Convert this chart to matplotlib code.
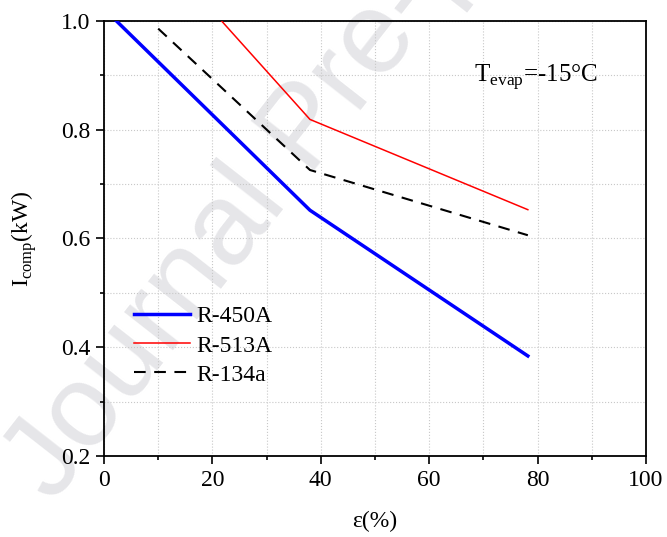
import numpy as np
import matplotlib.pyplot as plt
from matplotlib.ticker import MultipleLocator

# effectiveness (%) and compressor power (kW)
eff_450a = [2.3, 38.0, 78.2]
pow_450a = [1.0, 0.652, 0.384]
eff_513a = [21.7, 38.0, 78.2]
pow_513a = [1.0, 0.819, 0.653]
eff_134a = [10.0, 38.0, 78.2]
pow_134a = [0.986, 0.726, 0.606]

plt.rcParams['font.family'] = ['Liberation Serif', 'DejaVu Serif']
plt.rcParams['mathtext.fontset'] = 'custom'
plt.rcParams['mathtext.rm'] = 'Liberation Serif'

fig = plt.figure(figsize=(6.67, 5.37), dpi=100)
ax = fig.add_axes([104 / 667, 1 - 456 / 537, 542 / 667, 435 / 537])
ax.patch.set_alpha(0)

# faint watermark behind the plot
fig.text(306 / 667, 1 - 130 / 537, "Journal Pre-proof", fontsize=84, color="#e6e6e9",
         family="Liberation Sans", rotation=52, ha="center", va="center", zorder=-1)

ax.plot(eff_450a, pow_450a, color="blue", lw=2.5, label="R-450A", zorder=3)
ax.plot(eff_513a, pow_513a, color="red", lw=1.1, label="R-513A", zorder=3)
ax.plot(eff_134a, pow_134a, color="black", lw=1.5, ls=(0, (5.6, 4.1)), label="R-134a", zorder=3)

ax.set_xlim(0, 100)
ax.set_ylim(0.2, 1.0)
ax.xaxis.set_major_locator(MultipleLocator(20))
ax.xaxis.set_minor_locator(MultipleLocator(10))
ax.yaxis.set_minor_locator(MultipleLocator(0.1))
ax.set_yticks(np.arange(0.2, 1.01, 0.2))
ax.set_yticklabels(["0.2", "0.4", "0.6", "0.8", "1.0"])

ax.grid(which="both", color="#c8c8c8", ls=":", lw=0.8)
ax.tick_params(which="both", direction="out", labelsize=17, width=1.2)
ax.tick_params(which="major", length=6, pad=4)
ax.tick_params(which="minor", length=3)
for s in ax.spines.values():
    s.set_linewidth(1.3)

ax.set_xlabel("ε(%)", fontsize=17)
ax.xaxis.set_label_coords(0.5, -0.126)
ax.set_ylabel(r"I$_{\rm comp}$(kW)", fontsize=17)
ax.yaxis.set_label_coords(-0.12, 0.5)

ax.text(0.683, 0.86, r"T$_{\rm evap}$=-15°C", transform=ax.transAxes,
        fontsize=18, va="baseline")

ax.legend(loc="upper left", bbox_to_anchor=(0.055, 0.345), frameon=False, fontsize=17,
          handlelength=2.4, handletextpad=0.25, labelspacing=0.32,
          borderpad=0, borderaxespad=0)

fig.savefig("out.png", dpi=100)
